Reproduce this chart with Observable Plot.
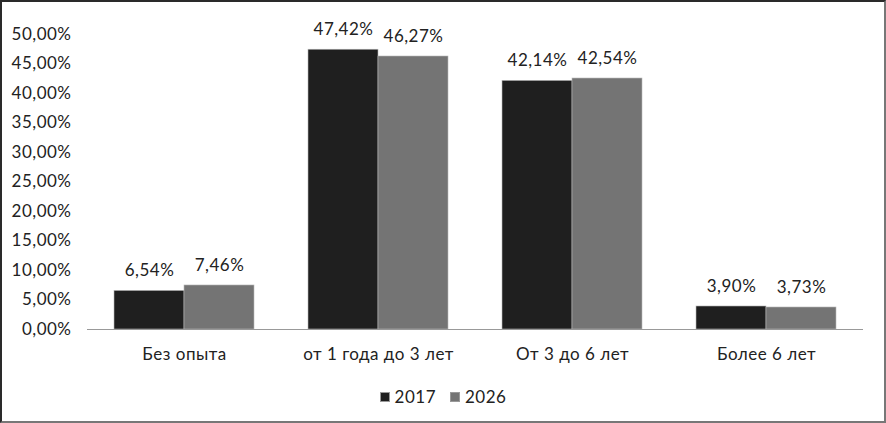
<!DOCTYPE html>
<html><head><meta charset="utf-8">
<script src="https://cdn.jsdelivr.net/npm/d3@7"></script>
<script src="https://cdn.jsdelivr.net/npm/@observablehq/plot@0.6"></script>
<style>
body{margin:0;background:#fff;}
#wrap{position:relative;width:886px;height:423px;box-sizing:border-box;border:2px solid #2a2a2a;border-right-color:#777;border-bottom-color:#777;background:#fff;font-family:Lato,"Open Sans",sans-serif;overflow:hidden;}
#legend{display:flex;justify-content:center;align-items:center;gap:14px;font-size:17px;color:#222;margin-top:12px;letter-spacing:0.5px;}
#legend span.sw{display:inline-block;width:10px;height:10px;margin-right:5px;vertical-align:middle;}
#legend .item{display:flex;align-items:center;}
svg text{letter-spacing:0.5px;}
</style></head>
<body><div id="wrap"><div id="chart"></div><div id="legend"></div></div>
<script>
const categories = ["Без опыта", "от 1 года до 3 лет", "От 3 до 6 лет", "Более 6 лет"];
const series = ["2017", "2026"];
const values2017 = [6.54, 47.42, 42.14, 3.90];
const values2026 = [7.46, 46.27, 42.54, 3.73];
const colors = ["#1f1f1f", "#747474"];
const yTicks = [0,5,10,15,20,25,30,35,40,45,50];

const data = [];
categories.forEach((c,i)=>{
  data.push({cat:c, s:series[0], v:values2017[i]});
  data.push({cat:c, s:series[1], v:values2026[i]});
});
const fmt = v => v.toFixed(2).replace(".", ",") + "%";

const chart = Plot.plot({
  width: 882, height: 372,
  marginLeft: 85, marginRight: 21, marginTop: 32, marginBottom: 45,
  style: {fontFamily: "Lato, 'Open Sans', sans-serif", fontSize: "17px", color: "#222", background: "#fff"},
  fx: {domain: categories, paddingInner: 0.278, paddingOuter: 0.139, label: null},
  x: {domain: series, padding: 0, axis: null},
  y: {domain: [0, 50], label: null},
  color: {domain: series, range: colors},
  marks: [
    Plot.axisY({ticks: yTicks, tickFormat: fmt, tickSize: 0, tickPadding: 43, label: null, fontSize: 17}),
    Plot.axisFx({anchor: "bottom", tickSize: 0, tickPadding: 18, label: null, fontSize: 17}),
    Plot.barY(data, {fx: "cat", x: "s", y: "v", fill: "s", stroke: "#b8b8b8", strokeWidth: 0.6}),
    Plot.text(data, {fx: "cat", x: "s", y: "v", text: d => fmt(d.v), dy: -20, fontSize: 17, fill: "#222"}),
    Plot.ruleY([0], {stroke: "#999", strokeWidth: 1.2, insetLeft: -27, insetRight: -27})
  ]
});
document.getElementById("chart").appendChild(chart);

const lg = document.getElementById("legend");
series.forEach((s,i)=>{
  const it = document.createElement("div"); it.className="item";
  const sw = document.createElement("span"); sw.className="sw"; sw.style.background=colors[i]; sw.style.border="1px solid #999"; sw.style.boxSizing="border-box";
  it.appendChild(sw); it.appendChild(document.createTextNode(s)); lg.appendChild(it);
});
</script></body></html>
